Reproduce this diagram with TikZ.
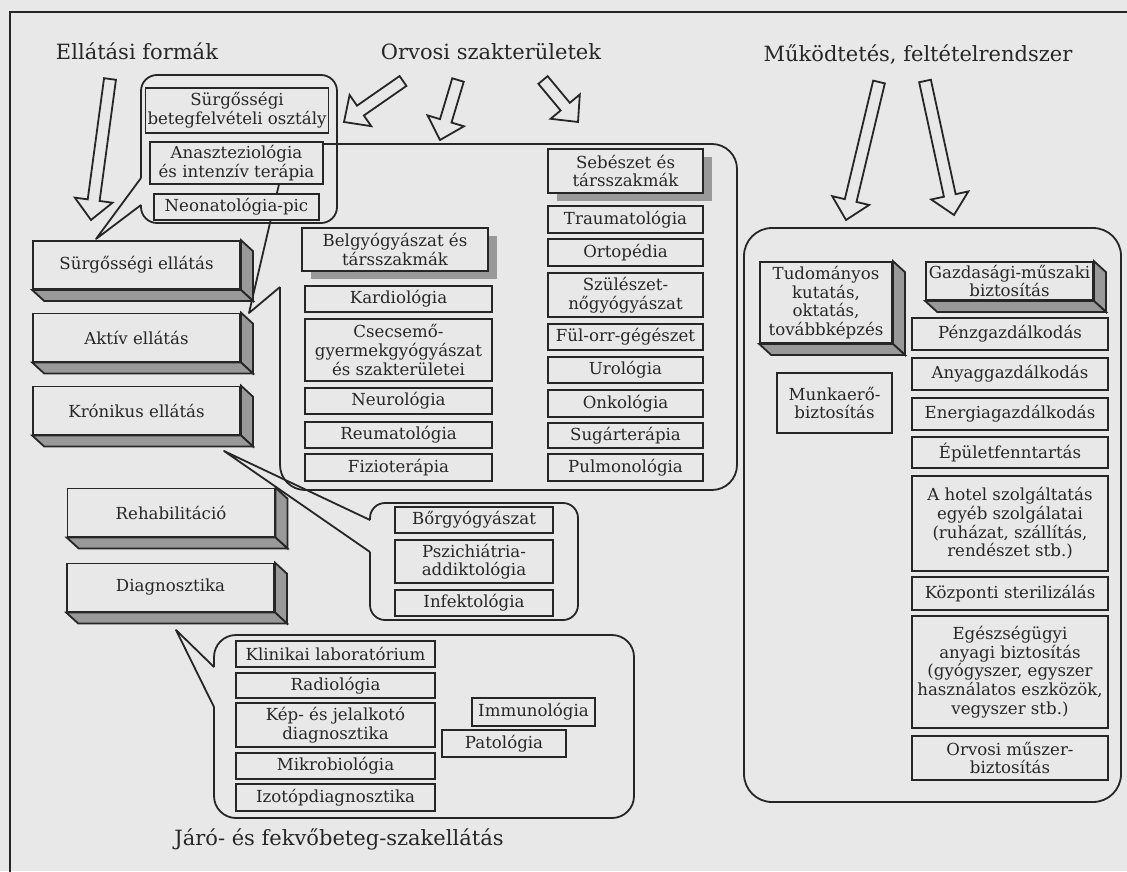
\documentclass[tikz,border=0pt]{standalone}
\usepackage{fontspec}
\setmainfont{DejaVu Serif}
\usetikzlibrary{calc,shadows}

\definecolor{paper}{gray}{0.91}
\definecolor{inkc}{gray}{0.15}
\definecolor{shade}{gray}{0.6}
\newcommand{\boxfont}{\fontsize{8.3}{9.3}\selectfont}
\newcommand{\titlefont}{\fontsize{10.5}{12}\selectfont}

% shaded sides of a raised box
\newcommand{\extrude}[1]{%
  \draw[ink, fill=shade] (#1.north east) -- ++(12,11) -- ($(#1.south east)+(12,11)$) -- (#1.south east) -- cycle;
  \draw[ink, fill=shade] (#1.south west) -- ++(12,11) -- ($(#1.south east)+(12,11)$) -- (#1.south east) -- cycle;
}
% hollow block arrow, tail -> tip
\newcommand{\blockarrow}[2]{%
  \coordinate (#2-b) at ($(#2)!10pt!(#1)$);
  \draw[ink, fill=paper] ($(#1)!3pt!90:(#2)$) -- ($(#2-b)!3pt!90:(#2)$) -- ($(#2-b)!9.5pt!90:(#2)$) -- (#2)
    -- ($(#2-b)!9.5pt!-90:(#2)$) -- ($(#2-b)!3pt!-90:(#2)$) -- ($(#1)!3pt!-90:(#2)$) -- cycle;
}

\begin{document}
\begin{tikzpicture}[x=0.5pt, y=-0.5pt,
    ink/.style={draw=inkc, line width=0.9pt},
    unit/.style={ink, fill=paper, inner sep=1pt, align=center, font=\boxfont, text=inkc},
    shadowed/.style={unit, drop shadow={shadow xshift=4.5pt, shadow yshift=-4pt, fill=shade, opacity=1}},
    callout/.style={ink, line join=round},
    title/.style={font=\titlefont, anchor=base, text=inkc},
    sz/.style 2 args={minimum width=#1*0.5pt, minimum height=#2*0.5pt}
  ]
    \useasboundingbox (0,0) rectangle (1127,871);
    \fill[paper] (0,0) rectangle (1127,871);
    \clip (0,0) rectangle (1127,871);
    \draw[inkc, line width=1.1pt] (10,900) -- (10,12) -- (1150,12);

    % titles
    \node[title] (tEll) at (137,60) {Ellátási formák};
    \node[title] (tOrv) at (491,60) {Orvosi szakterületek};
    \node[title] (tMuk) at (918,62) {Működtetés, feltételrendszer};
    \node[title] (tJaro) at (339,845) {Járó- és fekvőbeteg-szakellátás};

    % callout tips
    \coordinate (tipA) at (96,239);
    \coordinate (tipB) at (249,313);
    \coordinate (tipC) at (224,451);
    \coordinate (tipD) at (176,630);

    % callouts
    \draw[callout, rounded corners=8pt] (141,178) -- (141,75) -- (337,75) -- (337,223) -- (141,223) -- (141,205);
    \draw[callout] (141,178) -- (tipA) -- (141,205);
    \draw[callout, rounded corners=12.5pt] (280,180) -- (280,144) -- (737,144) -- (737,490) -- (280,490) -- (280,287);
    \draw[callout] (280,180) -- (tipB) -- (280,287);
    \draw[callout, rounded corners=7.5pt] (370,520) -- (370,503) -- (578,503) -- (578,620) -- (370,620) -- (370,552);
    \draw[callout] (370,520) -- (tipC) -- (370,552);
    \draw[callout, rounded corners=11pt] (214,667) -- (214,635) -- (634,635) -- (634,818) -- (214,818) -- (214,707);
    \draw[callout] (214,667) -- (tipD) -- (214,707);
    \draw[callout, rounded corners=14pt] (744,228) rectangle (1121,802);

    % block arrows
    \coordinate (ell-t) at (110,79);  \coordinate (ell-h) at (91,220);
    \coordinate (orv1-t) at (403,81); \coordinate (orv1-h) at (344,122);
    \coordinate (orv2-t) at (458,80); \coordinate (orv2-h) at (440,140);
    \coordinate (orv3-t) at (543,80); \coordinate (orv3-h) at (578,122);
    \coordinate (muk1-t) at (879,82); \coordinate (muk1-h) at (846,220);
    \coordinate (muk2-t) at (925,81); \coordinate (muk2-h) at (954,215);
    \blockarrow{ell-t}{ell-h}
    \blockarrow{orv1-t}{orv1-h}
    \blockarrow{orv2-t}{orv2-h}
    \blockarrow{orv3-t}{orv3-h}
    \blockarrow{muk1-t}{muk1-h}
    \blockarrow{muk2-t}{muk2-h}

    % forms of care
    \node[unit, sz={207}{48}] (surg) at (136.5,265) {Sürgősségi ellátás};
    \node[unit, sz={207}{48}] (aktiv) at (136.5,337.5) {Aktív ellátás};
    \node[unit, sz={207}{48}] (kron) at (136.5,410.5) {Krónikus ellátás};
    \node[unit, sz={207}{48}] (rehab) at (171,512.5) {Rehabilitáció};
    \node[unit, sz={207}{48}] (diag) at (170.5,587.5) {Diagnosztika};
    \extrude{surg}
    \extrude{aktiv}
    \extrude{kron}
    \extrude{rehab}
    \extrude{diag}

    % emergency group
    \node[unit, sz={182}{45}] (sbo) at (237,110.5) {Sürgősségi\\betegfelvételi osztály};
    \node[unit, sz={173}{42}] (anaszt) at (236.5,163) {Anaszteziológia\\és intenzív terápia};
    \node[unit, sz={165}{26}] (neo) at (236.5,207) {Neonatológia-pic};

    % internal medicine
    \node[shadowed, sz={186}{43}] (belgy) at (395,249.5) {Belgyógyászat és\\társszakmák};
    \node[unit, sz={187}{26}] (kardio) at (398.5,299) {Kardiológia};
    \node[unit, sz={187}{62}] (csecs) at (398.5,350) {Csecsemő-\\gyermekgyógyászat\\és szakterületei};
    \node[unit, sz={187}{26}] (neuro) at (398.5,401) {Neurológia};
    \node[unit, sz={187}{26}] (reuma) at (398.5,435) {Reumatológia};
    \node[unit, sz={187}{27}] (fizio) at (398.5,467.5) {Fizioterápia};

    % surgery
    \node[shadowed, sz={155}{44}] (sebesz) at (625.5,171) {Sebészet és\\társszakmák};
    \node[unit, sz={155}{27}] (trauma) at (625.5,219.5) {Traumatológia};
    \node[unit, sz={155}{27}] (orto) at (625.5,252.5) {Ortopédia};
    \node[unit, sz={155}{44}] (szul) at (625.5,295) {Szülészet-\\nőgyógyászat};
    \node[unit, sz={155}{26}] (ful) at (625.5,337) {Fül-orr-gégészet};
    \node[unit, sz={155}{26}] (uro) at (625.5,370) {Urológia};
    \node[unit, sz={155}{27}] (onko) at (625.5,403.5) {Onkológia};
    \node[unit, sz={155}{25}] (sugar) at (625.5,435.5) {Sugárterápia};
    \node[unit, sz={155}{27}] (pulmo) at (625.5,467.5) {Pulmonológia};

    % chronic group
    \node[unit, sz={158}{26}] (borgy) at (474,520) {Bőrgyógyászat};
    \node[unit, sz={158}{43}] (pszich) at (474,561.5) {Pszichiátria-\\addiktológia};
    \node[unit, sz={158}{26}] (infekt) at (474,603) {Infektológia};

    % diagnostics
    \node[unit, sz={199}{26}] (klin) at (335.5,654) {Klinikai laboratórium};
    \node[unit, sz={199}{25}] (radio) at (335.5,685.5) {Radiológia};
    \node[unit, sz={199}{44}] (kep) at (335.5,725) {Kép- és jelalkotó\\diagnosztika};
    \node[unit, sz={199}{26}] (mikro) at (335.5,766) {Mikrobiológia};
    \node[unit, sz={199}{27}] (izotop) at (335.5,797.5) {Izotópdiagnosztika};
    \node[unit, sz={123}{28}] (immuno) at (533.5,712) {Immunológia};
    \node[unit, sz={124}{27}] (pato) at (504,743.5) {Patológia};

    % operations
    \node[unit, sz={132}{81}] (tudom) at (826,302.5) {Tudományos\\kutatás,\\oktatás,\\továbbképzés};
    \node[unit, sz={167}{38}] (gazd) at (1009.5,281) {Gazdasági-műszaki\\biztosítás};
    \extrude{tudom}
    \extrude{gazd}
    \node[unit, sz={115}{60}] (munka) at (834.5,403) {Munkaerő-\\biztosítás};
    \node[unit, sz={196}{32}] (penz) at (1010,334) {Pénzgazdálkodás};
    \node[unit, sz={196}{32}] (anyag) at (1010,374) {Anyaggazdálkodás};
    \node[unit, sz={196}{32}] (energ) at (1010,414) {Energiagazdálkodás};
    \node[unit, sz={196}{31}] (epulet) at (1010,452.5) {Épületfenntartás};
    \node[unit, sz={196}{95}] (hotel) at (1010,523.5) {A hotel szolgáltatás\\egyéb szolgálatai\\(ruházat, szállítás,\\rendészet stb.)};
    \node[unit, sz={196}{33}] (kozp) at (1010,593.5) {Központi sterilizálás};
    \node[unit, sz={196}{112}] (egesz) at (1010,672) {Egészségügyi\\anyagi biztosítás\\(gyógyszer, egyszer\\használatos eszközök,\\vegyszer stb.)};
    \node[unit, sz={196}{44}] (orvmu) at (1010,758) {Orvosi műszer-\\biztosítás};
\end{tikzpicture}
\end{document}
